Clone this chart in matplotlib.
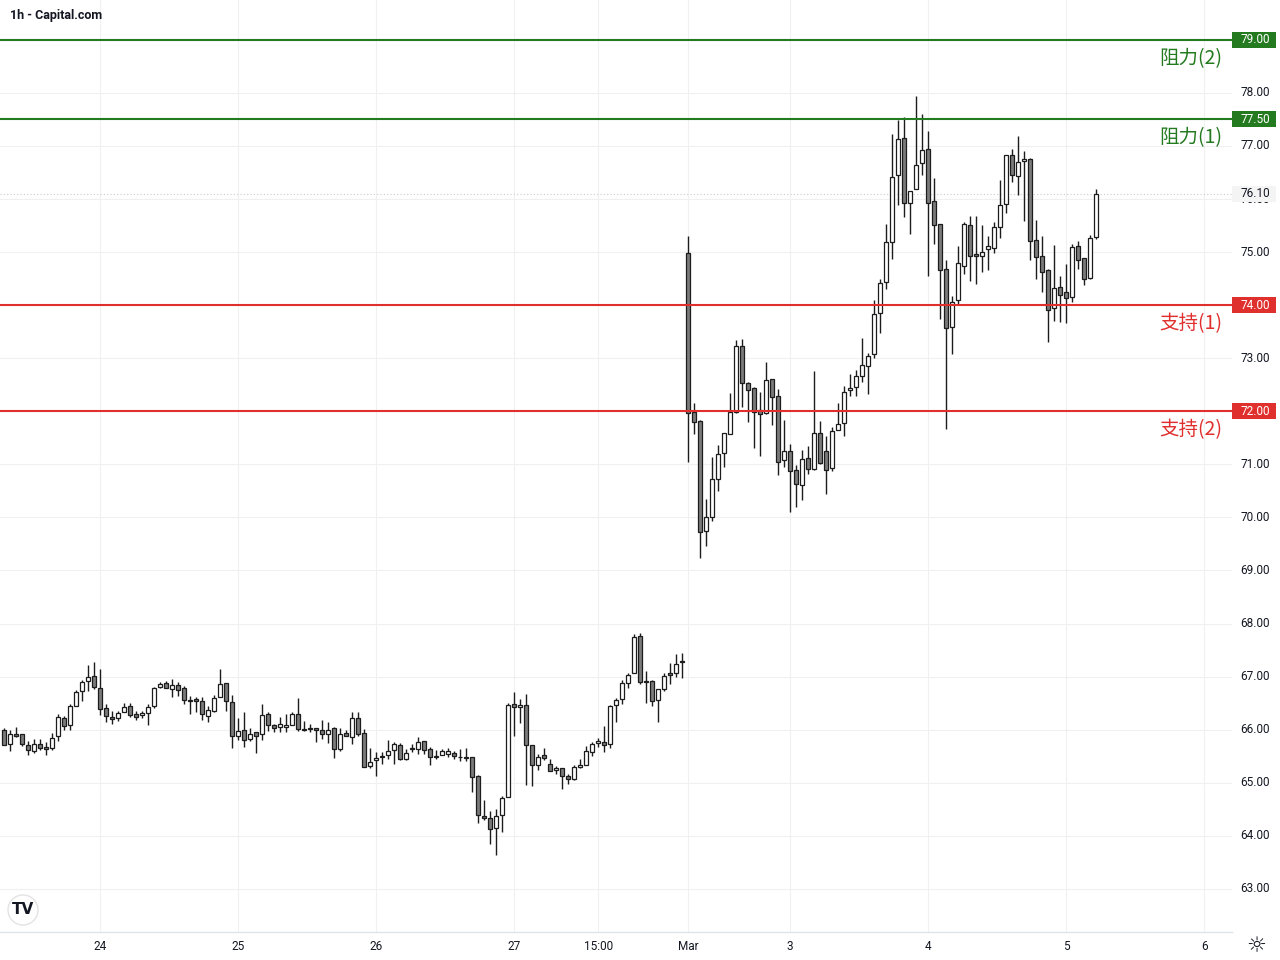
import matplotlib
matplotlib.use('Agg')
import matplotlib.pyplot as plt
import matplotlib.transforms as mtransforms
from matplotlib.patches import Rectangle, Ellipse
import numpy as np

# ---------------- data (hourly candles) ----------------
opens = [66.00, 65.74, 65.92, 65.91, 65.72, 65.59, 65.74, 65.68, 65.66, 65.89,
         66.22, 66.09, 66.45, 66.73, 66.92, 67.02, 66.79, 66.41, 66.24, 66.23,
         66.34, 66.45, 66.30, 66.27, 66.32, 66.45, 66.81, 66.88, 66.76, 66.84,
         66.79, 66.55, 66.57, 66.54, 66.26, 66.36, 66.62, 66.88, 66.53, 65.88,
         66.00, 65.82, 65.96, 65.91, 66.30, 66.08, 66.06, 66.06, 66.08, 66.30,
         66.02, 66.04, 66.04, 66.00, 65.91, 66.04, 65.64, 65.93, 65.87, 66.23,
         65.93, 65.32, 65.42, 65.49, 65.53, 65.61, 65.72, 65.45, 65.65, 65.64,
         65.78, 65.63, 65.48, 65.53, 65.55, 65.57, 65.49, 65.49, 65.48, 65.12,
         64.37, 64.33, 64.14, 64.39, 64.73, 66.49, 66.43, 66.47, 65.72, 65.34,
         65.52, 65.36, 65.24, 65.28, 65.13, 65.07, 65.30, 65.34, 65.58, 65.75,
         65.77, 65.73, 66.46, 66.58, 66.88, 67.06, 67.76, 66.91, 66.91, 66.56,
         66.76, 67.06, 67.07, 67.29, 74.98, 71.99, 71.81, 69.75, 70.01, 70.72,
         71.21, 71.58, 71.98, 73.23, 72.54, 72.44, 72.03, 71.96, 72.61, 72.29,
         71.08, 71.26, 70.89, 70.62, 71.12, 70.92, 71.59, 71.25, 70.94, 71.64,
         71.78, 72.41, 72.46, 72.67, 72.85, 73.08, 73.86, 74.44, 75.19, 76.46,
         77.15, 75.92, 76.18, 76.67, 76.95, 75.96, 75.53, 74.69, 73.59, 74.09,
         74.73, 75.51, 74.97, 74.93, 75.05, 75.08, 75.47, 75.90, 76.82, 76.43,
         76.72, 76.76, 75.23, 74.93, 74.67, 73.94, 74.35, 74.24, 74.16, 75.11,
         74.88, 74.51, 75.29]
highs = [66.03, 65.99, 66.06, 65.91, 65.78, 65.82, 65.83, 65.77, 65.94, 66.30,
         66.25, 66.48, 66.74, 66.93, 67.22, 67.28, 67.15, 66.48, 66.36, 66.36,
         66.51, 66.51, 66.35, 66.36, 66.48, 66.81, 66.89, 66.92, 66.96, 66.89,
         66.82, 66.63, 66.61, 66.61, 66.45, 66.65, 67.15, 66.88, 66.66, 66.23,
         66.33, 66.04, 65.96, 66.48, 66.33, 66.11, 66.24, 66.30, 66.33, 66.60,
         66.16, 66.11, 66.04, 66.19, 66.14, 66.06, 66.04, 65.99, 66.33, 66.33,
         66.02, 65.66, 65.58, 65.58, 65.80, 65.77, 65.75, 65.63, 65.73, 65.86,
         65.78, 65.68, 65.61, 65.64, 65.66, 65.59, 65.63, 65.66, 65.48, 65.14,
         64.67, 64.46, 64.50, 64.75, 66.51, 66.71, 66.58, 66.68, 65.72, 65.55,
         65.66, 65.45, 65.32, 65.28, 65.17, 65.34, 65.45, 65.69, 65.77, 65.84,
         66.07, 66.46, 66.59, 66.93, 67.06, 67.81, 67.83, 67.10, 66.93, 66.76,
         67.06, 67.25, 67.42, 67.44, 75.31, 72.15, 71.84, 70.34, 71.13, 71.36,
         71.60, 72.34, 73.34, 73.36, 72.55, 72.46, 72.37, 72.93, 72.61, 72.42,
         71.83, 71.38, 70.98, 71.27, 71.35, 72.76, 71.81, 71.53, 71.70, 72.15,
         72.48, 72.70, 72.78, 73.38, 73.10, 74.09, 74.50, 75.53, 77.23, 77.49,
         77.55, 76.16, 77.94, 77.60, 77.28, 76.40, 75.53, 74.86, 74.18, 75.12,
         75.57, 75.68, 75.68, 75.51, 75.30, 75.57, 76.36, 76.82, 76.95, 77.19,
         76.91, 76.78, 75.60, 75.30, 74.69, 75.13, 74.54, 74.78, 75.16, 75.20,
         74.88, 75.33, 76.19]
lows = [65.71, 65.60, 65.87, 65.70, 65.53, 65.57, 65.61, 65.53, 65.61, 65.78,
        66.00, 66.00, 66.45, 66.54, 66.72, 66.76, 66.27, 66.14, 66.11, 66.16,
        66.34, 66.24, 66.18, 66.22, 66.09, 66.41, 66.79, 66.79, 66.61, 66.64,
        66.48, 66.30, 66.33, 66.18, 66.14, 66.33, 66.62, 66.36, 65.66, 65.80,
        65.68, 65.78, 65.56, 65.80, 65.98, 65.96, 65.96, 65.96, 66.08, 65.98,
        65.97, 65.96, 65.77, 65.83, 65.75, 65.47, 65.60, 65.89, 65.74, 65.89,
        65.30, 65.27, 65.13, 65.36, 65.45, 65.36, 65.43, 65.43, 65.58, 65.55,
        65.54, 65.34, 65.44, 65.53, 65.49, 65.44, 65.41, 65.41, 64.82, 64.24,
        64.29, 63.84, 63.64, 64.07, 64.73, 65.89, 66.13, 64.95, 64.93, 65.24,
        65.43, 65.23, 65.17, 64.89, 64.98, 65.05, 65.28, 65.34, 65.50, 65.68,
        65.58, 65.65, 66.14, 66.48, 66.78, 67.06, 66.87, 66.50, 66.44, 66.14,
        66.72, 66.87, 67.00, 66.98, 71.05, 71.58, 69.24, 69.46, 69.93, 70.49,
        70.95, 71.58, 71.96, 72.08, 71.79, 71.30, 71.15, 71.94, 71.75, 70.80,
        70.95, 70.11, 70.20, 70.33, 70.81, 70.90, 71.00, 70.44, 70.88, 71.64,
        71.53, 72.29, 72.29, 72.55, 72.33, 73.00, 73.47, 74.31, 74.87, 75.88,
        75.67, 75.34, 76.18, 76.46, 74.55, 75.16, 73.74, 71.66, 73.08, 74.02,
        74.58, 74.45, 74.39, 74.62, 74.67, 74.98, 75.26, 75.73, 76.32, 76.07,
        75.58, 74.85, 74.50, 74.24, 73.30, 73.70, 73.69, 73.67, 74.05, 74.69,
        74.38, 74.49, 75.24]
closes = [65.72, 65.91, 65.89, 65.74, 65.61, 65.73, 65.66, 65.64, 65.85, 66.24,
          66.07, 66.45, 66.71, 66.90, 67.00, 66.81, 66.39, 66.26, 66.20, 66.32,
          66.43, 66.28, 66.24, 66.31, 66.43, 66.79, 66.86, 66.79, 66.84, 66.75,
          66.56, 66.54, 66.54, 66.29, 66.38, 66.60, 66.86, 66.54, 65.89, 65.98,
          65.81, 65.92, 65.89, 66.28, 66.08, 66.03, 66.11, 66.09, 66.30, 66.02,
          65.99, 66.01, 66.00, 65.91, 65.99, 65.63, 65.91, 65.89, 66.23, 65.91,
          65.30, 65.39, 65.47, 65.51, 65.59, 65.74, 65.45, 65.57, 65.64, 65.76,
          65.61, 65.48, 65.51, 65.59, 65.59, 65.51, 65.48, 65.46, 65.10, 64.39,
          64.33, 64.13, 64.37, 64.71, 66.47, 66.43, 66.47, 65.72, 65.33, 65.49,
          65.47, 65.23, 65.28, 65.13, 65.07, 65.30, 65.34, 65.60, 65.73, 65.79,
          65.71, 66.44, 66.56, 66.88, 67.04, 67.74, 66.89, 66.90, 66.54, 66.76,
          67.02, 67.04, 67.24, 67.27, 71.96, 71.79, 69.73, 70.01, 70.72, 71.19,
          71.60, 71.99, 73.23, 72.54, 72.40, 71.99, 71.94, 72.59, 72.27, 71.04,
          71.25, 70.87, 70.63, 71.10, 70.92, 71.59, 71.02, 70.90, 71.63, 71.76,
          72.37, 72.44, 72.67, 72.87, 73.04, 73.83, 74.42, 75.19, 76.42, 77.13,
          75.92, 76.16, 76.65, 76.93, 75.92, 75.51, 74.67, 73.57, 74.05, 74.80,
          75.53, 74.93, 74.93, 75.01, 75.12, 75.47, 75.88, 76.82, 76.45, 76.69,
          76.76, 75.21, 74.91, 74.63, 73.90, 74.33, 74.20, 74.14, 75.09, 74.86,
          74.49, 75.26, 76.10]

price_ticks = [63, 64, 65, 66, 67, 68, 69, 70, 71, 72, 73, 74, 75, 76, 77, 78, 79]
date_tick_bars = [16, 39, 62, 85, 99, 114, 131, 154, 177, 200]
date_tick_labels = ['24', '25', '26', '27', '15:00', 'Mar', '3', '4', '5', '6']

resist_levels = [79.00, 77.50]
resist_names = ['阻力(2)', '阻力(1)']
support_levels = [74.00, 72.00]
support_names = ['支持(1)', '支持(2)']
last_price = 76.10

# ---------------- figure ----------------
W, H = 1280, 960
fig = plt.figure(figsize=(12.8, 9.6), dpi=100)
fig.patch.set_facecolor('white')
plot_right_px = 1232
plot_bottom_px = 932
ax = fig.add_axes([0, (H - plot_bottom_px) / H, plot_right_px / W, plot_bottom_px / H])

px_per_unit = 53.07
y79 = 39.8
ax.set_ylim(79 - (plot_bottom_px - y79) / px_per_unit, 79 + y79 / px_per_unit)
ax.set_xlim((0 - 4.3) / 6, (plot_right_px - 4.3) / 6)

for s in ['top', 'right', 'left']:
    ax.spines[s].set_visible(False)
ax.spines['bottom'].set_color('#e0e3eb')
ax.spines['bottom'].set_linewidth(1.0)
ax.set_xticks([])
ax.set_yticks([])

grid_c = '#f0f0f0'
for p in price_ticks:
    ax.axhline(p, color=grid_c, lw=0.8, zorder=0)
for b in date_tick_bars:
    ax.axvline(b, color=grid_c, lw=0.8, zorder=0)

# last price dotted line
ax.axhline(last_price, color='#c9ccd4', lw=0.8, ls=(0, (1, 2)), zorder=1)

# candles
o = np.array(opens); h = np.array(highs); l = np.array(lows); c = np.array(closes)
xs = np.arange(len(o))
edge = '#1c1c1c'
ax.vlines(xs, l, h, color=edge, lw=1.0, zorder=2)
bottoms = np.minimum(o, c)
heights = np.maximum(np.abs(c - o), 0.012)
fills = ['#ffffff' if cc >= oo else '#7b7b7b' for oo, cc in zip(o, c)]
ax.bar(xs, heights, bottom=bottoms, width=0.62, color=fills, edgecolor=edge,
       linewidth=0.9, zorder=3)

green = '#237a1f'
red = '#e0302e'
for lv in resist_levels:
    ax.axhline(lv, color=green, lw=1.5, zorder=4)
for lv in support_levels:
    ax.axhline(lv, color=red, lw=1.5, zorder=4)

cjk = ['Noto Sans CJK SC', 'DejaVu Sans']
tr_lab = mtransforms.blended_transform_factory(ax.transAxes, ax.transData)
lab_dy = 0.35
for lv, nm in zip(resist_levels, resist_names):
    ax.text(1222 / plot_right_px, lv - lab_dy, nm, transform=tr_lab, ha='right',
            va='center', fontsize=14, color=green, family=cjk, zorder=5)
for lv, nm in zip(support_levels, support_names):
    ax.text(1222 / plot_right_px, lv - lab_dy, nm, transform=tr_lab, ha='right',
            va='center', fontsize=14, color=red, family=cjk, zorder=5)

# price axis labels
tr_fig = mtransforms.blended_transform_factory(fig.transFigure, ax.transData)
special = set(resist_levels + support_levels)
for p in price_ticks:
    if p in special:
        continue
    ax.text(1270 / W, p, f'{p:.2f}', transform=tr_fig, ha='right', va='center',
            fontsize=8.5, color='#131722', family='Roboto', clip_on=False)

box_h = 16 / px_per_unit


def level_box(price, fc, tc, txt):
    ax.add_patch(Rectangle((1232 / W, price - box_h / 2), 44 / W, box_h,
                           transform=tr_fig, facecolor=fc, edgecolor='none',
                           clip_on=False, zorder=6))
    ax.text(1270 / W, price, txt, transform=tr_fig, ha='right', va='center',
            fontsize=8.5, color=tc, family='Roboto', clip_on=False, zorder=7)


for lv in resist_levels:
    level_box(lv, green, 'white', f'{lv:.2f}')
for lv in support_levels:
    level_box(lv, red, 'white', f'{lv:.2f}')
level_box(last_price, '#f4f4f4', '#131722', f'{last_price:.2f}')

# date labels
tr_date = mtransforms.blended_transform_factory(ax.transData, fig.transFigure)
for b, t in zip(date_tick_bars, date_tick_labels):
    ax.text(b, 1 - 946 / H, t, transform=tr_date, ha='center', va='center',
            fontsize=8.5, color='#131722', family='Roboto', clip_on=False)

# header
fig.text(10 / W, 1 - 15 / H, '1h - Capital.com', ha='left', va='center',
         fontsize=9, fontweight='bold', color='#131722', family='Roboto')

# TradingView logo
logo = Ellipse((23 / W, 1 - 910 / H), 30 / W, 30 / H, transform=fig.transFigure,
               facecolor='white', edgecolor='#e3e3e3', lw=1.0, zorder=8,
               clip_on=False)
ax.add_artist(logo)
fig.text(23 / W, 1 - 910 / H, 'TV', ha='center', va='center', fontsize=11,
         fontweight='heavy', color='#131722', family='DejaVu Sans', zorder=9)

# settings icon
fig.text(1256 / W, 1 - 946 / H, '☼', ha='center', va='center', fontsize=16,
         color='#131722', family='DejaVu Sans')

fig.savefig('out.png', dpi=100, facecolor='white')
